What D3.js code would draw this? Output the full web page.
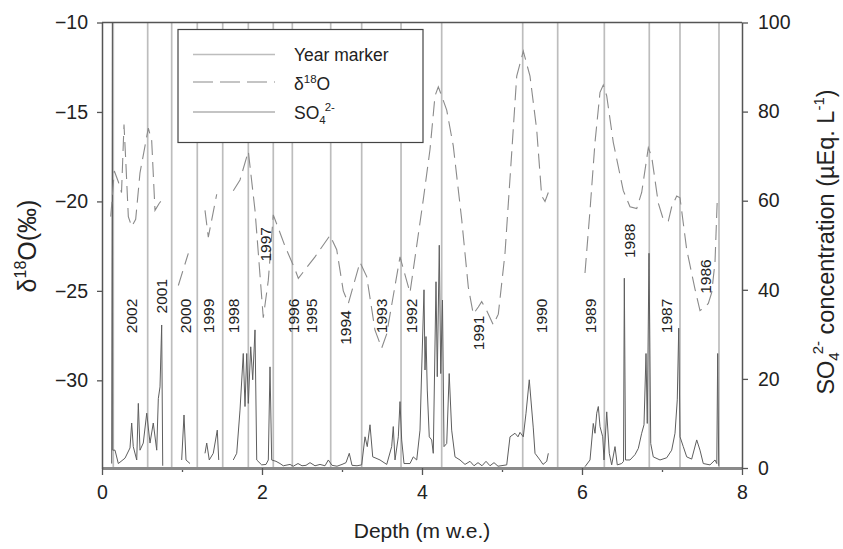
<!DOCTYPE html>
<html>
<head>
<meta charset="utf-8">
<script src="https://cdn.jsdelivr.net/npm/d3@7/dist/d3.min.js"></script>
<style>
  body { margin: 0; background: #fff; }
  svg { display: block; font-family: "Liberation Sans", Arial, sans-serif; }
</style>
</head>
<body>
<svg id="chart"></svg>
<script>
// year marker depths (m w.e.)
const markerDepth = [0.141, 0.571, 0.871, 1.191, 1.509, 1.829, 2.141, 2.379, 2.859, 3.246,
  3.738, 4.246, 5.259, 5.696, 6.279, 6.841, 7.225, 7.7125];

// year annotations: depth and delta18O level where the label sits
const yearLabel = ['2002', '2001', '2000', '1999', '1998', '1997', '1996', '1995', '1994',
  '1993', '1992', '1991', '1990', '1989', '1988', '1987', '1986'];
const yearDepth = [0.3625, 0.746, 1.0375, 1.329, 1.641, 2.0375, 2.3875, 2.621, 3.0375,
  3.496, 3.871, 4.704, 5.496, 6.10, 6.591, 7.05, 7.5375];
const yearLevel = [-26.4, -25.3, -26.4, -26.4, -26.4, -22.4, -26.4, -26.4, -27.05,
  -26.4, -26.4, -27.35, -26.4, -26.4, -22.2, -26.4, -24.2];

// delta18O record, null = gap
const o18Depth = [0.109, 0.154, 0.204, 0.244, 0.275, 0.30, 0.329, 0.371, 0.421, 0.475,
  0.579, 0.621, 0.6625, 0.716, 0.754, 0.80,
  0.954, 1.079, 1.15,
  1.2875, 1.329, 1.434, 1.50,
  1.641, 1.725, 1.829, 1.9125, 1.954, 2.016, 2.079, 2.141, 2.2875, 2.4125, 2.454, 2.6625,
  2.85, 2.934, 3.016, 3.079, 3.225, 3.309, 3.4125, 3.496, 3.559, 3.725, 3.85, 4.016, 4.10,
  4.1625, 4.204, 4.246, 4.309, 4.391, 4.496, 4.579, 4.641, 4.704, 4.746, 4.809, 4.891,
  4.954, 5.0375, 5.121, 5.184, 5.266, 5.35, 5.434, 5.496, 5.5375, 5.579, 5.70,
  6.0375, 6.10, 6.1625, 6.225, 6.266, 6.309, 6.391, 6.516, 6.60, 6.684, 6.746, 6.829,
  6.871, 6.954, 7.016, 7.079, 7.121, 7.184, 7.225, 7.309, 7.4125, 7.475, 7.5375, 7.579,
  7.621, 7.6625, 7.69];
const o18Value = [-20.85, -18.3, -18.9, -19.5, -15.7, -18.0, -20.85, -21.4, -21.0, -18.4,
  -15.9, -16.6, -20.5, -20.1, -19.9, null,
  -24.7, -22.9, null,
  -20.5, -22.0, -19.6, null,
  -19.4, -18.8, -17.2, -20.5, -22.9, -26.5, -24.4, -20.75, -22.5, -23.8, -24.3, -23.1,
  -21.9, -22.7, -25.0, -25.7, -23.4, -24.2, -27.2, -28.2, -27.4, -23.1, -25.1, -19.9, -17.1,
  -14.1, -13.6, -14.1, -14.9, -16.9, -21.0, -24.8, -26.3, -25.9, -25.6, -26.1, -26.9,
  -26.3, -22.9, -17.3, -13.0, -11.6, -13.0, -16.0, -19.7, -20.0, -19.5, null,
  -24.0, -20.5, -16.7, -13.9, -13.5, -14.1, -16.7, -19.4, -20.3, -20.4, -19.5, -17.0,
  -17.5, -20.1, -21.0, -21.1, -20.3, -19.7, -19.8, -22.7, -24.9, -26.1, -25.9, -25.7,
  -25.1, -23.4, -20.0];

// SO4 2- record (µEq/L), null = gap
const so4Depth = [0.121, 0.130, 0.134, 0.1625, 0.204, 0.2875, 0.35, 0.371, 0.391, 0.434,
  0.454, 0.475, 0.516, 0.559, 0.60, 0.641, 0.684, 0.704, 0.725, 0.746, 0.759, 0.80,
  0.996, 1.025, 1.05, 1.10, 1.15,
  1.2875, 1.309, 1.341, 1.391, 1.441, 1.459, 1.50,
  1.641, 1.684, 1.725, 1.766, 1.7875, 1.809, 1.829, 1.859, 1.884, 1.9125, 1.934, 1.996,
  2.05, 2.079, 2.10, 2.121, 2.175, 2.225, 2.266, 2.35, 2.391, 2.45, 2.50, 2.55, 2.60,
  2.6625, 2.725, 2.7875, 2.829, 2.875, 2.9375, 3.0, 3.05, 3.091, 3.125, 3.1875, 3.246,
  3.2875, 3.316, 3.35, 3.384, 3.425, 3.475, 3.559, 3.621, 3.641, 3.6625, 3.704, 3.725,
  3.746, 3.775, 3.85, 3.891, 3.934, 3.975, 3.996, 4.025, 4.0375, 4.05, 4.066, 4.091,
  4.121, 4.141, 4.175, 4.191, 4.216, 4.234, 4.256, 4.275, 4.309, 4.34, 4.371, 4.4125,
  4.475, 4.5375, 4.60, 4.65, 4.70, 4.75, 4.80, 4.85, 4.90, 4.95, 5.059, 5.10, 5.1625,
  5.20, 5.225, 5.266, 5.30, 5.341, 5.391, 5.4125, 5.475, 5.5125, 5.559, 5.579, 5.70,
  6.0375, 6.10, 6.141, 6.1625, 6.184, 6.204, 6.225, 6.259, 6.275, 6.309, 6.341, 6.371,
  6.4125, 6.441, 6.496, 6.519, 6.529, 6.544, 6.60, 6.6625, 6.704, 6.746, 6.775, 6.80,
  6.816, 6.8375, 6.859, 6.891, 6.975, 7.059, 7.121, 7.1625, 7.191, 7.209, 7.225, 7.266,
  7.309, 7.371, 7.434, 7.475, 7.516, 7.60, 7.6625, 7.685, 7.696, 7.709];
const so4Value = [1.0, 100, 4.0, 4.0, 1.0, 2.2, 4.5, 10.1, 4.8, 1.8,
  14.5, 4.0, 5.6, 12.3, 5.6, 10.1, 4.0, 15.6, 18.2, 32.1, 0.5, null,
  1.8, 11.9, 1.8, 1.0, null,
  3.3, 5.6, 1.8, 3.3, 8.5, 1.8, null,
  1.8, 3.3, 13.0, 25.7, 13.8, 25.7, 14.5, 27.2, 19.8, 31.0, 1.8, 0.7,
  0.8, 1.8, 22.7, 1.8, 1.5, 1.0, 0.5, 0.8, 0.4, 1.0, 0.5, 0.6, 1.2,
  0.5, 0.8, 0.5, 1.8, 0.6, 0.4, 0.8, 1.2, 3.3, 0.6, 0.5, 0.7,
  7.0, 4.8, 9.7, 2.5, 2.2, 1.8, 0.8, 4.8, 9.3, 1.8, 7.0, 14.9,
  6.3, 1.0, 1.0, 2.5, 1.8, 8.5, 22.0, 40.0, 22.0, 29.5, 17.5, 7.0,
  6.3, 3.3, 41.8, 20.5, 50.0, 21.2, 37.7, 4.8, 5.5, 21.2, 8.5, 2.5,
  1.8, 0.8, 1.5, 0.5, 1.2, 0.5, 1.5, 0.5, 1.2, 0.4, 0.7, 7.0, 7.8,
  7.0, 8.0, 7.0, 12.3, 19.8, 9.0, 3.3, 1.8, 0.8, 1.5, 3.3, null,
  0.3, 1.8, 10.0, 7.8, 12.3, 13.8, 9.3, 7.0, 1.8, 12.6, 3.3, 0.7,
  4.8, 0.7, 1.0, 1.5, 42.6, 1.8, 1.8, 3.0, 4.4, 7.8, 9.7, 25.7,
  10.0, 48.2, 5.5, 2.5, 1.8, 2.3, 4.0, 7.8, 15.3, 31.4, 7.0, 4.8,
  2.5, 2.0, 6.3, 4.0, 1.0, 0.7, 1.8, 1.0, 25.7, 0.5];

const o18Ticks = [-10, -15, -20, -25, -30];
const so4Ticks = [0, 20, 40, 60, 80, 100];
const depthTicks = [0, 2, 4, 6, 8];
const depthMinor = [1, 3, 5, 7];

const width = 843;
const height = 549;
const margin = {top: 22.5, right: 101, bottom: 81, left: 102};

const svg = d3.select('#chart')
  .attr('width', width)
  .attr('height', height);

const x = d3.scaleLinear()
  .domain([0, 8])
  .range([margin.left, width - margin.right]);
const yO = d3.scaleLinear()
  .domain([-34.9, -10])
  .range([height - margin.bottom, margin.top]);
const yS = d3.scaleLinear()
  .domain([0, 100])
  .range([height - margin.bottom, margin.top]);

const o18 = o18Depth.map((d, i) => ({d: d, v: o18Value[i]}));
const so4 = so4Depth.map((d, i) => ({d: d, v: so4Value[i]}));

// year markers
svg.append('g')
  .selectAll('line')
  .data(markerDepth)
  .join('line')
  .attr('x1', d => x(d))
  .attr('x2', d => x(d))
  .attr('y1', yS(0))
  .attr('y2', yS(100))
  .attr('stroke', '#bdbdbd')
  .attr('stroke-width', 1.7);

// SO4 line
svg.append('path')
  .datum(so4)
  .attr('fill', 'none')
  .attr('stroke', '#5e5e5e')
  .attr('stroke-width', 1)
  .attr('d', d3.line()
    .defined(d => d.v !== null)
    .x(d => x(d.d))
    .y(d => yS(d.v)));

// delta18O line
svg.append('path')
  .datum(o18)
  .attr('fill', 'none')
  .attr('stroke', '#8a8a8a')
  .attr('stroke-width', 1.1)
  .attr('stroke-dasharray', '15,7')
  .attr('d', d3.line()
    .defined(d => d.v !== null)
    .x(d => x(d.d))
    .y(d => yO(d.v)));

// year labels
svg.append('g')
  .selectAll('text')
  .data(yearLabel)
  .join('text')
  .attr('transform', (d, i) => `translate(${x(yearDepth[i])},${yO(yearLevel[i])}) rotate(-90)`)
  .attr('text-anchor', 'middle')
  .attr('dy', '0.36em')
  .attr('font-size', 15.5)
  .attr('fill', '#222')
  .text(d => d);

// frame top
svg.append('line')
  .attr('x1', x(0))
  .attr('x2', x(8))
  .attr('y1', margin.top)
  .attr('y2', margin.top)
  .attr('stroke', '#555')
  .attr('stroke-width', 1.5);

function styleAxis(g) {
  g.select('.domain').attr('stroke', '#555').attr('stroke-width', 1.5);
  g.selectAll('.tick line').attr('stroke', '#555').attr('stroke-width', 1.3);
  g.selectAll('.tick text')
    .attr('font-size', 19.5)
    .attr('fill', '#222')
    .attr('font-family', '"Liberation Sans", Arial, sans-serif');
}

// x axis
svg.append('g')
  .attr('transform', `translate(0,${height - margin.bottom})`)
  .call(d3.axisBottom(x).tickValues(depthMinor).tickSize(4).tickFormat(''))
  .call(g => g.select('.domain').remove())
  .call(styleAxis);
const xAxis = svg.append('g')
  .attr('transform', `translate(0,${height - margin.bottom})`)
  .call(d3.axisBottom(x).tickValues(depthTicks).tickSize(7).tickSizeOuter(0).tickPadding(10))
  .call(styleAxis);
xAxis.select('.domain').attr('stroke', '#8a8a8a').attr('stroke-width', 3);

// left axis
svg.append('g')
  .attr('transform', `translate(${margin.left},0)`)
  .call(d3.axisLeft(yO).tickValues(o18Ticks).tickSize(5).tickSizeOuter(0).tickPadding(9))
  .call(styleAxis);

// right axis
svg.append('g')
  .attr('transform', `translate(${width - margin.right},0)`)
  .call(d3.axisRight(yS).tickValues(so4Ticks).tickSize(6).tickSizeOuter(0).tickPadding(10))
  .call(styleAxis);

// axis titles
svg.append('text')
  .attr('x', (x(0) + x(8)) / 2)
  .attr('y', 538)
  .attr('text-anchor', 'middle')
  .attr('font-size', 21)
  .attr('fill', '#222')
  .text('Depth (m w.e.)');

const leftTitle = svg.append('text')
  .attr('transform', 'translate(36,246) rotate(-90)')
  .attr('text-anchor', 'middle')
  .attr('font-size', 25)
  .attr('fill', '#222');
leftTitle.append('tspan').text('δ');
leftTitle.append('tspan').attr('dy', -10).attr('font-size', 16).text('18');
leftTitle.append('tspan').attr('dy', 10).text('O(‰)');

const rightTitle = svg.append('text')
  .attr('transform', 'translate(834,242) rotate(-90)')
  .attr('text-anchor', 'middle')
  .attr('font-size', 23.5)
  .attr('fill', '#222');
rightTitle.append('tspan').text('SO');
rightTitle.append('tspan').attr('dy', 5).attr('font-size', 15).text('4');
rightTitle.append('tspan').attr('dy', -16).attr('dx', -2).attr('font-size', 15).text('2-');
rightTitle.append('tspan').attr('dy', 11).text(' concentration (µEq. L');
rightTitle.append('tspan').attr('dy', -10).attr('font-size', 15).text('-1');
rightTitle.append('tspan').attr('dy', 10).text(')');

// legend
const legend = svg.append('g');
legend.append('rect')
  .attr('x', 178)
  .attr('y', 29.5)
  .attr('width', 245)
  .attr('height', 113)
  .attr('fill', '#fff')
  .attr('stroke', '#444')
  .attr('stroke-width', 1.2);

const legendItems = [
  {stroke: '#bdbdbd', dash: null, width: 1.7},
  {stroke: '#8a8a8a', dash: '20,7', width: 1.1},
  {stroke: '#8a8a8a', dash: null, width: 1.1}
];
const legendY = [54.5, 82, 112];
legend.selectAll('line')
  .data(legendItems)
  .join('line')
  .attr('x1', 193)
  .attr('x2', 275)
  .attr('y1', (d, i) => legendY[i])
  .attr('y2', (d, i) => legendY[i])
  .attr('stroke', d => d.stroke)
  .attr('stroke-width', d => d.width)
  .attr('stroke-dasharray', d => d.dash);

legend.append('text')
  .attr('x', 294).attr('y', legendY[0] + 6.5)
  .attr('font-size', 17.5).attr('fill', '#222')
  .text('Year marker');
const lt2 = legend.append('text')
  .attr('x', 294).attr('y', legendY[1] + 7.5)
  .attr('font-size', 17.5).attr('fill', '#222');
lt2.append('tspan').text('δ');
lt2.append('tspan').attr('dy', -7).attr('font-size', 11.5).text('18');
lt2.append('tspan').attr('dy', 7).text('O');
const lt3 = legend.append('text')
  .attr('x', 294).attr('y', legendY[2] + 6.5)
  .attr('font-size', 17.5).attr('fill', '#222');
lt3.append('tspan').text('SO');
lt3.append('tspan').attr('dy', 5).attr('font-size', 11.5).text('4');
lt3.append('tspan').attr('dy', -13).attr('dx', -1).attr('font-size', 11.5).text('2-');
</script>
</body>
</html>
